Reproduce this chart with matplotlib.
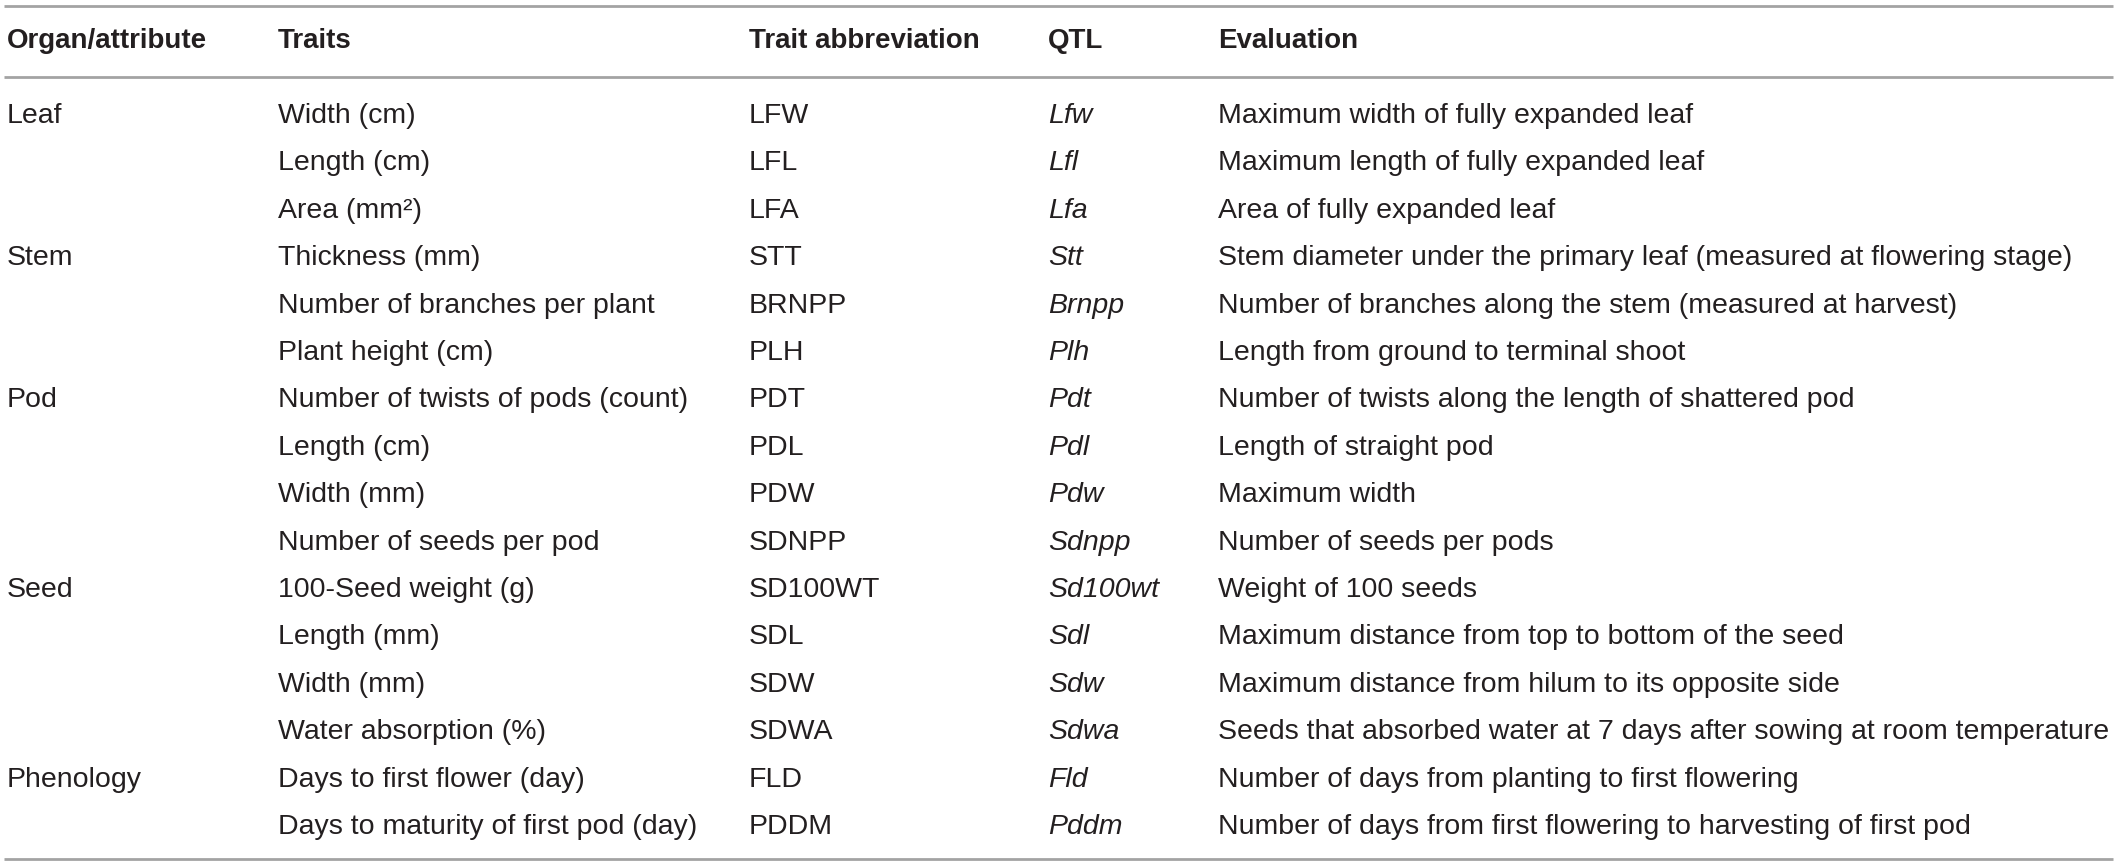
import matplotlib.pyplot as plt

headers = ["Organ/attribute", "Traits", "Trait abbreviation", "QTL", "Evaluation"]

organs = ["Leaf", "", "", "Stem", "", "", "Pod", "", "", "", "Seed", "", "", "",
          "Phenology", ""]

traits = ["Width (cm)", "Length (cm)", "Area (mm\u00b2)", "Thickness (mm)",
          "Number of branches per plant", "Plant height (cm)",
          "Number of twists of pods (count)", "Length (cm)", "Width (mm)",
          "Number of seeds per pod", "100-Seed weight (g)", "Length (mm)",
          "Width (mm)", "Water absorption (%)", "Days to first flower (day)",
          "Days to maturity of first pod (day)"]

abbrevs = ["LFW", "LFL", "LFA", "STT", "BRNPP", "PLH", "PDT", "PDL", "PDW",
           "SDNPP", "SD100WT", "SDL", "SDW", "SDWA", "FLD", "PDDM"]

qtls = ["Lfw", "Lfl", "Lfa", "Stt", "Brnpp", "Plh", "Pdt", "Pdl", "Pdw",
        "Sdnpp", "Sd100wt", "Sdl", "Sdw", "Sdwa", "Fld", "Pddm"]

evaluations = [
    "Maximum width of fully expanded leaf",
    "Maximum length of fully expanded leaf",
    "Area of fully expanded leaf",
    "Stem diameter under the primary leaf (measured at flowering stage)",
    "Number of branches along the stem (measured at harvest)",
    "Length from ground to terminal shoot",
    "Number of twists along the length of shattered pod",
    "Length of straight pod",
    "Maximum width",
    "Number of seeds per pods",
    "Weight of 100 seeds",
    "Maximum distance from top to bottom of the seed",
    "Maximum distance from hilum to its opposite side",
    "Seeds that absorbed water at 7 days after sowing at room temperature",
    "Number of days from planting to first flowering",
    "Number of days from first flowering to harvesting of first pod",
]

# layout (pixels of the 2117x864 image)
W, H = 2117, 864
col_x = [7, 278, 749, 1048, 1218]
row_h = 47.4
first_row = 112
body_fs = 20.5
head_fs = 20
txt_color = "#231f20"
line_color = "#a3a3a3"

plt.rcParams['font.family'] = ['Liberation Sans', 'DejaVu Sans']

fig = plt.figure(figsize=(W / 100, H / 100), dpi=100)
ax = fig.add_axes([0, 0, 1, 1])
ax.set_xlim(0, W)
ax.set_ylim((H - first_row) / row_h, -first_row / row_h)
ax.axis('off')

# header row
for x, h in zip(col_x, headers):
    ax.text(x, -1.35, h, fontsize=head_fs, fontweight='bold', color=txt_color,
            va='baseline', ha='left')

columns = [organs, traits, abbrevs, qtls, evaluations]
for c, (x, col) in enumerate(zip(col_x, columns)):
    for i, val in enumerate(col):
        ax.text(x, i + 0.23, val, fontsize=body_fs,
                style='italic' if c == 3 else 'normal',
                color=txt_color, va='baseline', ha='left')

n = len(traits)
for y in [-2.24, -0.74, n - 1 + 0.76]:
    ax.plot([4, W - 4], [y, y], color=line_color, lw=2, solid_capstyle='butt')

fig.savefig("out.png", dpi=100)
